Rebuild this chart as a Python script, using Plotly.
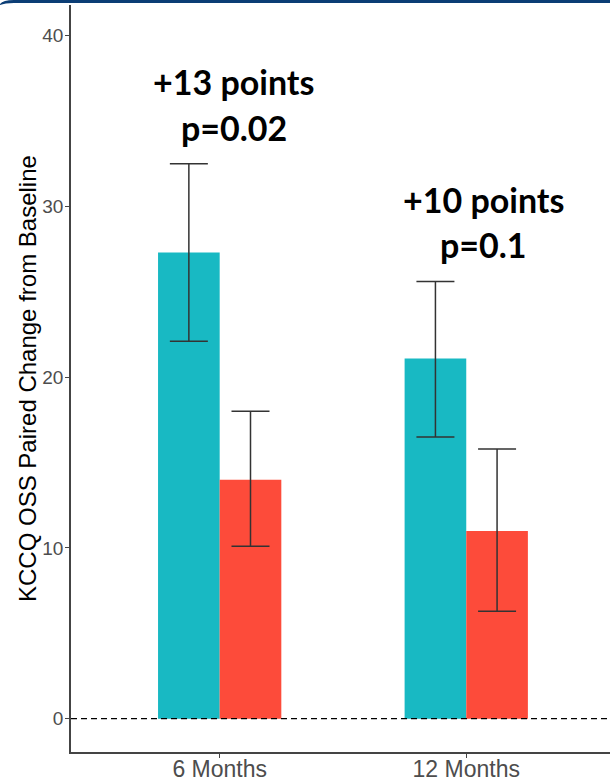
import plotly.graph_objects as go

categories = ["6 Months", "12 Months"]
teal_values = [27.3, 21.1]
teal_upper = [32.5, 25.6]
teal_lower = [22.1, 16.5]
red_values = [14.0, 11.0]
red_upper = [18.0, 15.8]
red_lower = [10.1, 6.3]
y_ticks = [0, 10, 20, 30, 40]
labels_top = ["+13 points", "+10 points"]
labels_bottom = ["p=0.02", "p=0.1"]

W, H = 610, 782
ML, MR, MT, MB = 71, 0, 5, 30
PW, PH = W - ML - MR, H - MT - MB


def px_x(px):
    return (px - ML) / PW


def px_y(py):
    return (H - MB - py) / PH


TEAL = "#18B9C3"
RED = "#FD4B3A"

fig = go.Figure()
fig.add_trace(go.Bar(
    x=categories, y=teal_values, offset=-0.25, width=0.25,
    marker=dict(color=TEAL, line=dict(width=0)),
    error_y=dict(type="data", symmetric=False,
                 array=[u - v for u, v in zip(teal_upper, teal_values)],
                 arrayminus=[v - l for v, l in zip(teal_values, teal_lower)],
                 color="#333333", thickness=1.5, width=19),
    showlegend=False,
))
fig.add_trace(go.Bar(
    x=categories, y=red_values, offset=0, width=0.25,
    marker=dict(color=RED, line=dict(width=0)),
    error_y=dict(type="data", symmetric=False,
                 array=[u - v for u, v in zip(red_upper, red_values)],
                 arrayminus=[v - l for v, l in zip(red_values, red_lower)],
                 color="#333333", thickness=1.5, width=19),
    showlegend=False,
))

# zero dashed line
fig.add_shape(type="line", xref="paper", yref="y", x0=0, x1=1, y0=0, y1=0,
              line=dict(color="black", width=1.2, dash="6px,4px"), layer="above")

# top slide border
fig.add_shape(type="path", xref="paper", yref="paper",
              path=(f"M {px_x(0)},{px_y(4)} Q {px_x(3)},{px_y(0)} {px_x(14)},{px_y(0)} "
                    f"L {px_x(612)},{px_y(0)} L {px_x(612)},{px_y(3)} L {px_x(14)},{px_y(3)} "
                    f"Q {px_x(5)},{px_y(3)} {px_x(0)},{px_y(5)} Z"),
              fillcolor="#0B3D75", line=dict(width=0), layer="above")

font_ann = dict(family="Lato", size=34, color="black", weight="bold")
ann_x = [0.057, 1.069]
top_y = [37.3, 30.4]
bot_y = [34.65, 27.75]
for i in range(2):
    fig.add_annotation(x=ann_x[i], y=top_y[i], xref="x", yref="y", text=labels_top[i],
                       showarrow=False, font=font_ann, xanchor="center", yanchor="middle")
    fig.add_annotation(x=ann_x[i], y=bot_y[i], xref="x", yref="y", text=labels_bottom[i],
                       showarrow=False, font=font_ann, xanchor="center", yanchor="middle")

# y axis title
fig.add_annotation(x=px_x(27), y=px_y(379), xref="paper", yref="paper",
                   text="KCCQ OSS Paired Change from Baseline", textangle=-90,
                   showarrow=False, xanchor="center", yanchor="middle",
                   font=dict(family="Liberation Sans, Arial", size=24, color="black"))

fig.update_layout(
    width=W, height=H,
    margin=dict(l=ML, r=MR, t=MT, b=MB, autoexpand=False),
    paper_bgcolor="white", plot_bgcolor="white",
    barmode="overlay",
    xaxis=dict(type="category", range=[-0.603, 1.583], showline=True, linecolor="#444444",
               linewidth=1.5, ticks="outside", ticklen=4, tickwidth=1.2, tickcolor="#444444",
               tickfont=dict(family="Liberation Sans, Arial", size=23, color="#4d4d4d"),
               ticklabelstandoff=-8,
               showgrid=False, zeroline=False, automargin=False),
    yaxis=dict(range=[-1.95, 41.8], tickvals=y_ticks, showline=True, linecolor="#444444",
               linewidth=1.5, ticks="outside", ticklen=4, tickwidth=1.2, tickcolor="#444444",
               tickfont=dict(family="Liberation Sans, Arial", size=19, color="#4d4d4d"),
               ticklabelstandoff=-2,
               showgrid=False, zeroline=False, automargin=False),
)

fig.write_html("out.html")
